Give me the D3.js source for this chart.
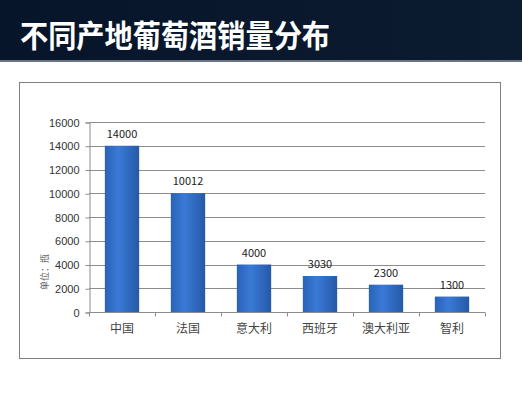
<!DOCTYPE html>
<html>
<head>
    <meta charset="utf-8">
    <style>
        body { margin: 0; background: #fff; }
        svg { display: block; font-family: "Noto Sans CJK SC", "Liberation Sans", sans-serif; }
        .tick text { font-size: 11px; fill: #333; }
        .grid line { stroke: #8c8c8c; }
        .val { font-size: 11px; fill: #222; text-anchor: middle; }
    </style>
    <script src="https://d3js.org/d3.v7.min.js"></script>
</head>
<body>
    <svg width="522" height="394"></svg>
    <script>
        var title = "不同产地葡萄酒销量分布";
        var countries = ["中国", "法国", "意大利", "西班牙", "澳大利亚", "智利"];
        var sales = [14000, 10012, 4000, 3030, 2300, 1300];
        var yTicks = [0, 2000, 4000, 6000, 8000, 10000, 12000, 14000, 16000];

        var svg = d3.select("svg");

        var defs = svg.append("defs");
        var grad = defs.append("linearGradient")
            .attr("id", "barGrad")
            .attr("x1", "0%").attr("x2", "100%").attr("y1", "0%").attr("y2", "0%");
        grad.append("stop").attr("offset", "0%").attr("stop-color", "#2a62b8");
        grad.append("stop").attr("offset", "40%").attr("stop-color", "#3a7ad6");
        grad.append("stop").attr("offset", "100%").attr("stop-color", "#2559a8");

        var hgrad = defs.append("linearGradient")
            .attr("id", "headGrad")
            .attr("x1", "0%").attr("x2", "100%");
        hgrad.append("stop").attr("offset", "0%").attr("stop-color", "#07152a");
        hgrad.append("stop").attr("offset", "100%").attr("stop-color", "#0b1b30");

        // header band
        svg.append("rect")
           .attr("x", 0).attr("y", 0).attr("width", 522).attr("height", 60)
           .attr("fill", "url(#headGrad)");
        svg.append("rect")
           .attr("x", 0).attr("y", 60).attr("width", 522).attr("height", 2)
           .attr("fill", "#6b7480");
        svg.append("text")
           .attr("x", 20).attr("y", 47)
           .attr("fill", "#fff")
           .attr("font-size", 31)
           .attr("font-weight", "bold")
           .attr("textLength", 310)
           .attr("lengthAdjust", "spacingAndGlyphs")
           .text(title);

        // chart frame
        svg.append("rect")
           .attr("x", 19.5).attr("y", 82.5).attr("width", 481).attr("height", 276)
           .attr("fill", "#fff")
           .attr("stroke", "#7f7f7f");

        var plotLeft = 89, plotRight = 485, plotTop = 122, plotBottom = 312;

        var x = d3.scaleBand()
            .domain(countries)
            .range([plotLeft, plotRight])
            .paddingInner(0.48)
            .paddingOuter(0.24);

        var y = d3.scaleLinear()
            .domain([0, 16000])
            .range([plotBottom, plotTop]);

        // gridlines
        svg.append("g")
           .attr("class", "grid")
           .selectAll("line")
           .data(yTicks.slice(1))
           .enter().append("line")
           .attr("x1", plotLeft).attr("x2", plotRight)
           .attr("y1", function(d) { return Math.round(y(d)) + 0.5; })
           .attr("y2", function(d) { return Math.round(y(d)) + 0.5; });

        // y axis
        var yAxis = svg.append("g")
            .attr("transform", "translate(" + (plotLeft + 0.5) + ",0.5)")
            .call(d3.axisLeft(y).tickValues(yTicks).tickFormat(d3.format("d")).tickSize(4).tickPadding(6));
        yAxis.selectAll("path, line").attr("stroke", "#8c8c8c");
        yAxis.selectAll("text").attr("font-family", null);

        // bars
        svg.append("g")
           .selectAll("rect")
           .data(sales)
           .enter().append("rect")
           .attr("x", function(d, i) { return x(countries[i]); })
           .attr("y", function(d) { return y(d); })
           .attr("width", x.bandwidth())
           .attr("height", function(d) { return plotBottom - y(d); })
           .attr("fill", "url(#barGrad)");

        svg.append("g")
           .selectAll("text")
           .data(sales)
           .enter().append("text")
           .attr("class", "val")
           .attr("x", function(d, i) { return x(countries[i]) + x.bandwidth() / 2; })
           .attr("y", function(d) { return y(d) - 8; })
           .text(function(d) { return d; });

        // x axis: ticks between categories
        var sepX = function(i) { return Math.round(plotLeft + i * (plotRight - plotLeft) / countries.length) + 0.5; };
        var xAxis = svg.append("g")
            .attr("transform", "translate(0," + (plotBottom + 0.5) + ")");
        xAxis.append("line")
             .attr("x1", plotLeft).attr("x2", plotRight)
             .attr("stroke", "#8c8c8c");
        xAxis.selectAll(".sep")
             .data(d3.range(countries.length + 1))
             .enter().append("line")
             .attr("class", "sep")
             .attr("x1", sepX).attr("x2", sepX)
             .attr("y1", 0).attr("y2", 4)
             .attr("stroke", "#8c8c8c");
        xAxis.selectAll(".lbl")
             .data(countries)
             .enter().append("text")
             .attr("class", "lbl")
             .attr("x", function(d) { return x(d) + x.bandwidth() / 2; })
             .attr("y", 20)
             .attr("text-anchor", "middle")
             .attr("font-size", 12)
             .attr("fill", "#444")
             .text(function(d) { return d; });

        // y axis title
        svg.append("text")
           .attr("transform", "translate(48,272) rotate(-90)")
           .attr("text-anchor", "middle")
           .attr("font-size", 9)
           .attr("fill", "#666")
           .text("单位：瓶");
    </script>
</body>
</html>
